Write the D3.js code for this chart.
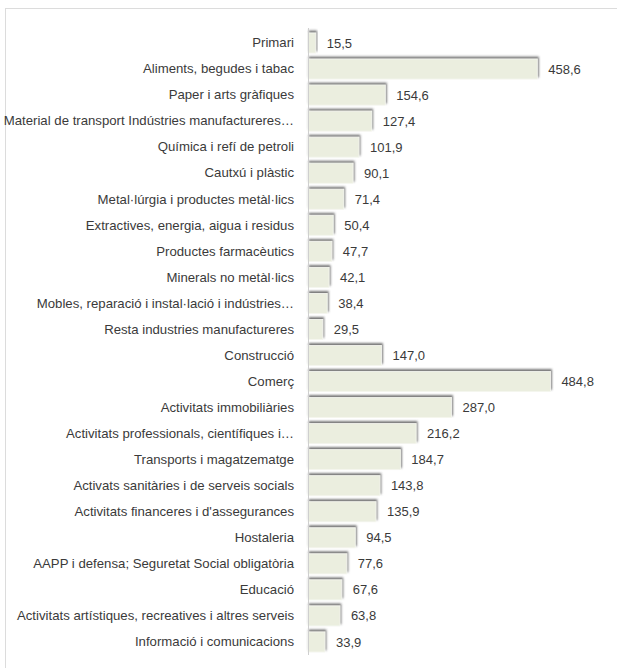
<!DOCTYPE html>
<html>
<head>
<meta charset="utf-8">
<script src="https://cdn.jsdelivr.net/npm/d3@7"></script>
<style>
  body { margin: 0; background: #fff; }
  text { font-family: "Liberation Sans", Arial, sans-serif; font-size: 13px; fill: #3a3a3a; }
</style>
</head>
<body>
<svg width="617" height="668"></svg>
<script>
var categories = [
    "Primari",
    "Aliments, begudes i tabac",
    "Paper i arts gràfiques",
    "Material de transport Indústries manufactureres…",
    "Química i refí de petroli",
    "Cautxú i plàstic",
    "Metal·lúrgia i productes metàl·lics",
    "Extractives, energia, aigua i residus",
    "Productes farmacèutics",
    "Minerals no metàl·lics",
    "Mobles, reparació i instal·lació i indústries…",
    "Resta industries manufactureres",
    "Construcció",
    "Comerç",
    "Activitats immobiliàries",
    "Activitats professionals, científiques i…",
    "Transports i magatzematge",
    "Activats sanitàries i de serveis socials",
    "Activitats financeres i d'assegurances",
    "Hostaleria",
    "AAPP i defensa; Seguretat Social obligatòria",
    "Educació",
    "Activitats artístiques, recreatives i altres serveis",
    "Informació i comunicacions"
];
var values = [15.5, 458.6, 154.6, 127.4, 101.9, 90.1, 71.4, 50.4, 47.7, 42.1, 38.4, 29.5,
    147.0, 484.8, 287.0, 216.2, 184.7, 143.8, 135.9, 94.5, 77.6, 67.6, 63.8, 33.9];

var data = categories.map(function (c, i) { return { name: c, value: values[i] }; });

var svg = d3.select("svg");
var fmt = function (v) { return d3.format(".1f")(v).replace(".", ","); };

// frame
svg.append("rect")
    .attr("x", 5.5).attr("y", 8.5)
    .attr("width", 640).attr("height", 700)
    .attr("fill", "none")
    .attr("stroke", "#dcdcdc");

var defs = svg.append("defs");
var f = defs.append("filter").attr("id", "shadow")
    .attr("x", "-10%").attr("y", "-40%").attr("width", "130%").attr("height", "160%");
f.append("feDropShadow")
    .attr("dx", 1).attr("dy", -2).attr("stdDeviation", 1.2)
    .attr("flood-color", "#444").attr("flood-opacity", 0.75);

var x = d3.scaleLinear().domain([0, 500]).range([308, 558]);
var y = d3.scaleBand().domain(categories).range([30, 655])
    .paddingInner(0.23).paddingOuter(0.115);

svg.selectAll(".bar")
    .data(data)
    .enter().append("rect")
    .attr("class", "bar")
    .attr("x", x(0))
    .attr("y", function (d) { return y(d.name); })
    .attr("width", function (d) { return x(d.value) - x(0); })
    .attr("height", y.bandwidth())
    .attr("fill", "#ebeedf")
    .attr("stroke", "#f6f7f0")
    .attr("stroke-width", 0.8)
    .attr("filter", "url(#shadow)");

svg.selectAll(".val")
    .data(data)
    .enter().append("text")
    .attr("class", "val")
    .attr("x", function (d) { return x(d.value) + 11; })
    .attr("y", function (d) { return y(d.name) + y.bandwidth() / 2; })
    .attr("dy", "0.35em")
    .text(function (d) { return fmt(d.value); });

var axis = svg.append("g")
    .attr("transform", "translate(" + x(0) + ",0)")
    .call(d3.axisLeft(y).tickSize(0).tickPadding(14));
axis.select(".domain").attr("stroke", "#cfcfcf").attr("d", "M0.5,28V655");
axis.selectAll("text")
    .style("font-family", "'Liberation Sans', Arial, sans-serif")
    .style("font-size", "13.2px")
    .attr("fill", "#3a3a3a");
</script>
</body>
</html>
